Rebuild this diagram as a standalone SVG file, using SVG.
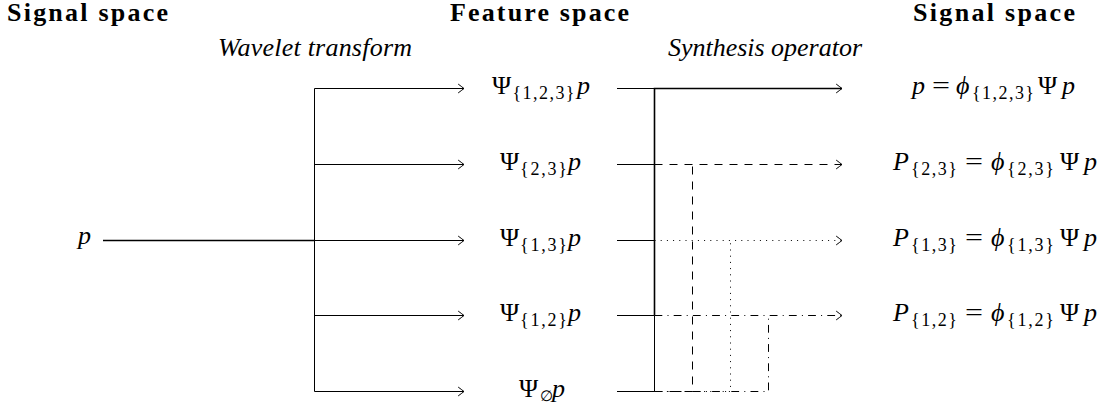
<svg xmlns="http://www.w3.org/2000/svg" width="1112" height="410" viewBox="0 0 1112 410">
<style>
text{fill:#000}
.h{font-family:"Liberation Serif","DejaVu Serif",serif;font-weight:bold;font-size:26px}
.it{font-family:"Liberation Serif","DejaVu Serif",serif;font-style:italic;font-size:26px}
.m{font-family:"Liberation Serif","DejaVu Serif",serif;font-size:26px}
.i{font-style:italic}
.s{font-size:18px;font-style:normal}
.e{font-size:15px;font-style:normal}
.ln{fill:none;stroke:#000;stroke-width:1}
.tk{fill:none;stroke:#000;stroke-width:1.6}
.da{stroke-dasharray:8 7}
.dt{stroke-dasharray:1 5.2}
.dd{stroke-dasharray:7.8 5.2 1 5.2}
</style>
<defs>
<marker id="to" markerUnits="userSpaceOnUse" viewBox="-7 -6 9 12" refX="0" refY="0" markerWidth="9" markerHeight="12" orient="auto" overflow="visible">
<path d="M-5.5,-4.2 Q-1.5,-1.2 0,0 Q-1.5,1.2 -5.5,4.2" fill="none" stroke="#000" stroke-width="1" stroke-linecap="round" stroke-dasharray="none"/>
</marker>
</defs>

<g id="headings">
<text class="h" x="7" y="21" textLength="161" lengthAdjust="spacing">Signal space</text>
<text class="h" x="450" y="21" textLength="179" lengthAdjust="spacing">Feature space</text>
<text class="h" x="913" y="21" textLength="162" lengthAdjust="spacing">Signal space</text>
<text class="it" x="218" y="56" textLength="194" lengthAdjust="spacing">Wavelet transform</text>
<text class="it" x="668" y="56" textLength="194" lengthAdjust="spacing">Synthesis operator</text>
</g>

<g id="connectors">
<!-- analysis fork -->
<path class="tk" d="M103,240.5 H314.5"/>
<path class="ln" d="M314.5,88.5 V391.5"/>
<path class="ln" d="M314.5,88.5 H464" marker-end="url(#to)"/>
<path class="ln" d="M314.5,164.5 H464" marker-end="url(#to)"/>
<path class="ln" d="M314.5,240.5 H464" marker-end="url(#to)"/>
<path class="ln" d="M314.5,315.5 H464" marker-end="url(#to)"/>
<path class="ln" d="M314.5,391.5 H464" marker-end="url(#to)"/>
<!-- synthesis: dashed -->
<path class="ln da" d="M654.5,164.5 H842" marker-end="url(#to)"/>
<path class="ln da" d="M654.5,391.5 H692.5 V164.5"/>
<!-- dotted -->
<path class="ln dt" d="M654.5,240.5 H842" marker-end="url(#to)"/>
<path class="ln dt" d="M654.5,391.5 H730.5 V240.5"/>
<!-- dash-dotted -->
<path class="ln dd" d="M654.5,315.5 H842" marker-end="url(#to)"/>
<path class="ln dd" d="M654.5,391.5 H768.5 V315.5"/>
<!-- solid -->
<path class="ln" d="M617,88.5 H654.5 M617,164.5 H654.5 M617,240.5 H654.5 M617,315.5 H654.5 M617,391.5 H654.5"/>
<path class="ln" d="M654.5,315.5 V391.5"/>
<path class="tk" d="M654.5,315.5 V88.5 H842" marker-end="url(#to)"/>
</g>

<g id="node-p">
<text class="m i" x="78" y="243.5">p</text>
</g>

<g id="node-psi123">
<text class="m" y="94"><tspan x="492">Ψ</tspan><tspan class="s" x="512.5" y="98.5" textLength="62" lengthAdjust="spacing">{1,2,3}</tspan><tspan class="i" x="577" y="94">p</tspan></text>
</g>
<g id="node-psi23">
<text class="m" y="170"><tspan x="500">Ψ</tspan><tspan class="s" x="520" y="174.5" textLength="47" lengthAdjust="spacing">{2,3}</tspan><tspan class="i" x="568" y="170">p</tspan></text>
</g>
<g id="node-psi13">
<text class="m" y="246"><tspan x="500">Ψ</tspan><tspan class="s" x="520" y="250.5" textLength="47" lengthAdjust="spacing">{1,3}</tspan><tspan class="i" x="568" y="246">p</tspan></text>
</g>
<g id="node-psi12">
<text class="m" y="321"><tspan x="500">Ψ</tspan><tspan class="s" x="520" y="325.5" textLength="47" lengthAdjust="spacing">{1,2}</tspan><tspan class="i" x="568" y="321">p</tspan></text>
</g>
<g id="node-psi0">
<text class="m" y="397"><tspan x="519">Ψ</tspan><tspan class="e" x="539.5" y="401">∅</tspan><tspan class="i" x="552" y="397">p</tspan></text>
</g>

<g id="node-out123">
<text class="m i" x="912" y="94">p</text>
<text class="m" x="932" y="94" textLength="18" lengthAdjust="spacingAndGlyphs">=</text>
<text class="m" y="94"><tspan class="i" x="956">ϕ</tspan><tspan class="s" x="972" y="98.5" textLength="62" lengthAdjust="spacing">{1,2,3}</tspan><tspan x="1038" y="94">Ψ</tspan><tspan class="i" x="1062" y="94">p</tspan></text>
</g>
<g id="node-out23">
<text class="m" y="170"><tspan class="i" x="893">P</tspan><tspan class="s" x="911" y="174.5" textLength="46" lengthAdjust="spacing">{2,3}</tspan></text>
<text class="m" x="965" y="170" textLength="18" lengthAdjust="spacingAndGlyphs">=</text>
<text class="m" y="170"><tspan class="i" x="991">ϕ</tspan><tspan class="s" x="1007" y="174.5" textLength="47" lengthAdjust="spacing">{2,3}</tspan><tspan x="1060" y="170">Ψ</tspan><tspan class="i" x="1084" y="170">p</tspan></text>
</g>
<g id="node-out13">
<text class="m" y="246"><tspan class="i" x="893">P</tspan><tspan class="s" x="911" y="250.5" textLength="46" lengthAdjust="spacing">{1,3}</tspan></text>
<text class="m" x="965" y="246" textLength="18" lengthAdjust="spacingAndGlyphs">=</text>
<text class="m" y="246"><tspan class="i" x="991">ϕ</tspan><tspan class="s" x="1007" y="250.5" textLength="47" lengthAdjust="spacing">{1,3}</tspan><tspan x="1060" y="246">Ψ</tspan><tspan class="i" x="1084" y="246">p</tspan></text>
</g>
<g id="node-out12">
<text class="m" y="321"><tspan class="i" x="893">P</tspan><tspan class="s" x="911" y="325.5" textLength="46" lengthAdjust="spacing">{1,2}</tspan></text>
<text class="m" x="965" y="321" textLength="18" lengthAdjust="spacingAndGlyphs">=</text>
<text class="m" y="321"><tspan class="i" x="991">ϕ</tspan><tspan class="s" x="1007" y="325.5" textLength="47" lengthAdjust="spacing">{1,2}</tspan><tspan x="1060" y="321">Ψ</tspan><tspan class="i" x="1084" y="321">p</tspan></text>
</g>
</svg>
